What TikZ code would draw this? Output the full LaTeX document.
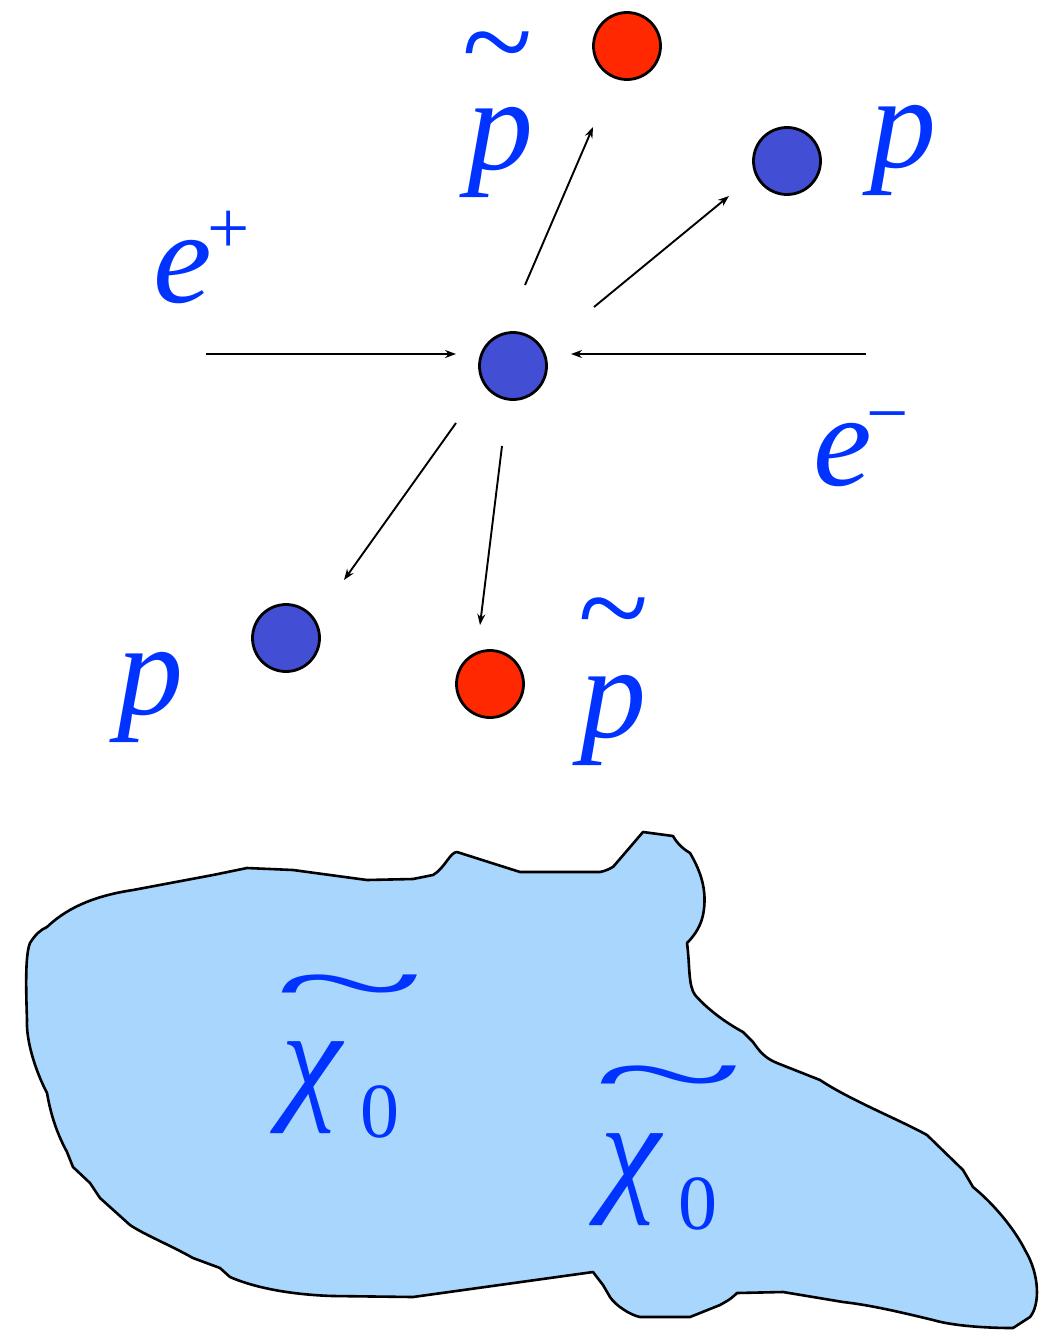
\documentclass[tikz,border=0pt]{standalone}
\usepackage{fontspec}
\newfontfamily\tms{Liberation Serif}
\newfontfamily\tmsit{Liberation Serif Italic}
\usetikzlibrary{arrows.meta}
\definecolor{txtblue}{RGB}{0,51,255}
\definecolor{ballblue}{RGB}{66,78,212}
\definecolor{ballred}{RGB}{255,40,0}
\definecolor{blobfill}{RGB}{168,214,253}
\tikzset{
  ball/.style={circle, draw=black, line width=2.8pt, minimum size=67pt, inner sep=0pt},
  blueball/.style={ball, fill=ballblue},
  redball/.style={ball, fill=ballred},
  lbl/.style={text=txtblue, inner sep=0pt, font=\tmsit\fontsize{132}{132}\selectfont},
  supl/.style={text=txtblue, inner sep=0pt, font=\tms\fontsize{75}{75}\selectfont},
  tild/.style={text=txtblue, inner sep=0pt, anchor=base, font=\tms\fontsize{130}{130}\selectfont},
  wtild/.style={text=txtblue, inner sep=0pt, anchor=base, font=\tms\fontsize{90}{90}\selectfont},
  chil/.style={text=txtblue, inner sep=0pt, font=\tmsit\fontsize{137}{137}\selectfont},
  zerol/.style={text=txtblue, inner sep=0pt, font=\tms\fontsize{78}{78}\selectfont},
  arr/.style={line width=1.9pt, -{Stealth[length=11pt,width=8pt]}},
}
\begin{document}
\begin{tikzpicture}[x=1pt,y=-1pt]
\useasboundingbox (0,0) rectangle (1045,1330);
% blob
\draw[fill=blobfill, line width=2.6pt, line join=round]
 (247,868) -- (293,870) -- (367,880) -- (413,879) -- (433,875)
 .. controls (445,868) and (450,852) .. (457,852) -- (520,872) -- (600,872)
 .. controls (610,870) and (615,865) .. (613,867) -- (643,832) -- (673,836)
 .. controls (678,845) and (685,850) .. (690,853)
 .. controls (700,870) and (708,890) .. (703,915)
 .. controls (700,930) and (690,940) .. (687,943)
 .. controls (690,965) and (688,985) .. (695,995)
 .. controls (710,1012) and (730,1025) .. (743,1032)
 -- (753,1042)
 .. controls (760,1052) and (765,1058) .. (777,1063)
 -- (820,1080)
 .. controls (850,1100) and (900,1120) .. (927,1135)
 -- (963,1170) -- (973,1187)
 .. controls (995,1205) and (1015,1230) .. (1025,1250)
 .. controls (1040,1275) and (1040,1305) .. (1030,1317)
 -- (1013,1328)
 .. controls (980,1328) and (950,1325) .. (933,1320)
 .. controls (900,1312) and (870,1305) .. (843,1302)
 -- (783,1292) -- (737,1293)
 .. controls (730,1300) and (725,1302) .. (720,1305)
 -- (690,1317) -- (640,1317)
 .. controls (630,1315) and (615,1305) .. (610,1297)
 -- (603,1285) -- (593,1272)
 -- (413,1297) -- (333,1296)
 .. controls (300,1295) and (260,1290) .. (230,1277)
 -- (220,1268) -- (193,1258)
 .. controls (170,1245) and (145,1235) .. (130,1225)
 -- (100,1198) -- (90,1183)
 -- (73,1167) -- (67,1152)
 .. controls (55,1130) and (50,1110) .. (47,1093)
 .. controls (35,1070) and (26,1040) .. (27,1020)
 .. controls (26,990) and (25,955) .. (30,943)
 .. controls (35,935) and (40,930) .. (47,927)
 .. controls (70,905) and (100,895) .. (133,890)
 -- (213,875) -- cycle;
% balls
\node[blueball] (c) at (513,366) {};
\node[redball] (tr) at (627,46) {};
\node[blueball] (rb) at (787,161) {};
\node[blueball] (bl) at (286,638) {};
\node[redball] (br) at (490,684) {};
% arrow end points
\coordinate (epS) at (206,354); \coordinate (epE) at (456,354);
\coordinate (emS) at (866,354); \coordinate (emE) at (571,354);
\coordinate (a1S) at (525,285); \coordinate (a1E) at (593,127);
\coordinate (a2S) at (594,307); \coordinate (a2E) at (729,196);
\coordinate (a3S) at (456,423); \coordinate (a3E) at (344,580);
\coordinate (a4S) at (502,446); \coordinate (a4E) at (480,625);
\draw[arr] (epS) -- (epE);
\draw[arr] (emS) -- (emE);
\draw[arr] (a1S) -- (a1E);
\draw[arr] (a2S) -- (a2E);
\draw[arr] (a3S) -- (a3E);
\draw[arr] (a4S) -- (a4E);
% labels
\node[tild] (t1) at (498,85) {\char"007E};
\node[lbl] (p1) at (500,152) {p};
\node[lbl] (p2) at (903,150) {p};
\node[lbl] (p3) at (150,697) {p};
\node[tild] (t2) at (614,651) {\char"007E};
\node[lbl] (p4) at (613,720) {p};
\node[lbl] (e1) at (183,272) {e};
\node[supl] (plus) at (229,232) {+};
\node[lbl] (e2) at (843,455) {e};
\node[supl, anchor=base] (minus) at (888,438) {\char"2212};
% chi labels
\node[wtild] (t3) at (350,1019) {\scalebox{3.1}[1.2]{\char"007E}};
\node[chil] (x1) at (312,1088) {χ};
\node[zerol] (z1) at (380,1112) {0};
\node[wtild] (t4) at (669,1110) {\scalebox{3.1}[1.2]{\char"007E}};
\node[chil] (x2) at (631,1180) {χ};
\node[zerol] (z2) at (698,1204) {0};
\end{tikzpicture}
\end{document}
